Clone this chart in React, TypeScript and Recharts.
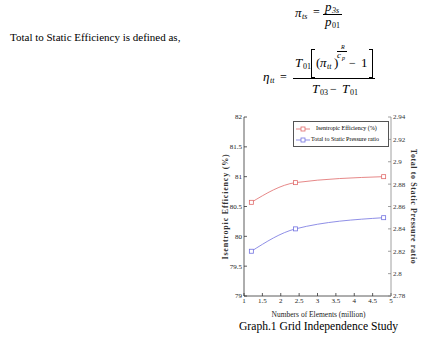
import React from "react";
import { LineChart, Line, XAxis, YAxis, Legend, Label } from "recharts";

// grid study: number of elements (million)
const elements = [1.2, 2.4, 4.8];
const isentropicEfficiency = [80.57, 80.9, 81.0];
const pressureRatio = [2.82, 2.84, 2.85];

const xTicks = [1, 1.5, 2, 2.5, 3, 3.5, 4, 4.5, 5];
const leftTicks = [79, 79.5, 80, 80.5, 81, 81.5, 82];
const rightTicks = [2.78, 2.8, 2.82, 2.84, 2.86, 2.88, 2.9, 2.92, 2.94];

const seriesNames = ["Isentropic Efficiency (%)", "Total to Static Pressure ratio"];
const seriesColors = ["#e06a6a", "#7272e0"];

const data = elements.map((x, i) => ({
  x,
  eff: isentropicEfficiency[i],
  ratio: pressureRatio[i],
}));

const SERIF = "'Liberation Serif', 'Times New Roman', serif";
const fmt = (v: number) => String(parseFloat(Number(v).toFixed(2)));

const squareDot = (color: string) => (props: any) => {
  const { cx, cy, index } = props;
  return (
    <rect
      key={`sq-${index}`}
      x={cx - 2}
      y={cy - 2}
      width={4}
      height={4}
      fill="#fff"
      stroke={color}
      strokeWidth={0.8}
    />
  );
};

function T({ x, y, s = 12, i = true, children }: any) {
  return (
    <span
      style={{
        position: "absolute",
        left: x,
        top: y,
        fontSize: s,
        fontStyle: i ? "italic" : "normal",
        lineHeight: 1,
        whiteSpace: "nowrap",
      }}
    >
      {children}
    </span>
  );
}

const Bar = ({ x, y, w, h = 1 }: any) => (
  <div style={{ position: "absolute", left: x, top: y, width: w, height: h, background: "#000" }} />
);

const Bracket = ({ x, side }: any) => (
  <div
    style={{
      position: "absolute",
      left: x,
      top: 49,
      width: 3,
      height: 27,
      borderTop: "1.2px solid #000",
      borderBottom: "1.2px solid #000",
      [side === "l" ? "borderLeft" : "borderRight"]: "1.2px solid #000",
    }}
  />
);

const renderLegend = (props: any) => {
  const items = props.payload || [];
  return (
    <div
      style={{
        border: "0.8px solid #555",
        background: "#fff",
        padding: "1px 2px",
        fontFamily: SERIF,
        fontSize: 6,
        lineHeight: "11px",
      }}
    >
      {items.map((it: any, i: number) => (
        <div key={i} style={{ display: "flex", alignItems: "center" }}>
          <svg width={14} height={6} style={{ marginRight: i === 0 ? 6 : 1 }}>
            <line x1={0} y1={3} x2={14} y2={3} stroke={it.color} strokeWidth={0.8} />
            <rect x={5} y={1} width={4} height={4} fill="#fff" stroke={it.color} strokeWidth={0.8} />
          </svg>
          <span>{it.value}</span>
        </div>
      ))}
    </div>
  );
};

export default function App() {
  return (
    <div
      style={{
        position: "absolute",
        left: 0,
        top: 0,
        width: 443,
        height: 339,
        background: "#fff",
        fontFamily: SERIF,
        color: "#000",
      }}
    >
      <LineChart
        width={443}
        height={339}
        data={data}
        margin={{ top: 117, right: 0, bottom: 0, left: 0 }}
      >
        <XAxis
          dataKey="x"
          type="number"
          domain={[1, 5]}
          ticks={xTicks}
          tickFormatter={fmt}
          height={43}
          stroke="#333"
          strokeWidth={0.8}
          tickSize={-3}
          tickMargin={5}
          tick={{ fontSize: 7, fill: "#222", fontFamily: SERIF }}
          interval={0}
        >
          <Label
            content={(p: any) => (
              <text
                x={p.viewBox.x + p.viewBox.width / 2 + 1}
                y={p.viewBox.y + 21}
                textAnchor="middle"
                fontSize={7.5}
                fontFamily={SERIF}
                fill="#222"
              >
                Numbers of Elements (million)
              </text>
            )}
          />
        </XAxis>
        <XAxis
          xAxisId="top"
          dataKey="x"
          type="number"
          orientation="top"
          domain={[1, 5]}
          ticks={xTicks}
          tickFormatter={() => ""}
          height={0}
          stroke="#333"
          strokeWidth={0.8}
          tickSize={-3}
        />
        <YAxis
          yAxisId="left"
          domain={[79, 82]}
          ticks={leftTicks}
          tickFormatter={fmt}
          width={244}
          stroke="#333"
          strokeWidth={0.8}
          tickSize={-3}
          tickMargin={5}
          tick={{ fontSize: 7, fill: "#222", fontFamily: SERIF }}
          interval={0}
        >
          <Label
            content={(p: any) => {
              const cx = p.viewBox.x + p.viewBox.width - 19;
              const cy = p.viewBox.y + p.viewBox.height / 2;
              return (
                <text
                  x={cx}
                  y={cy}
                  transform={`rotate(-90 ${cx} ${cy})`}
                  textAnchor="middle"
                  dominantBaseline="central"
                  fontSize={8}
                  fontWeight="bold"
                  letterSpacing={0.8}
                  fontFamily={SERIF}
                  fill="#333"
                >
                  Isentropic Efficiency (%)
                </text>
              );
            }}
          />
        </YAxis>
        <YAxis
          yAxisId="right"
          orientation="right"
          domain={[2.78, 2.94]}
          ticks={rightTicks}
          tickFormatter={fmt}
          width={52}
          stroke="#888"
          strokeWidth={0.8}
          tickSize={-3}
          tickMargin={5}
          tick={{ fontSize: 7, fill: "#333", fontFamily: SERIF }}
          interval={0}
        >
          <Label
            content={(p: any) => {
              const cx = p.viewBox.x + 22;
              const cy = p.viewBox.y + p.viewBox.height / 2;
              return (
                <text
                  x={cx}
                  y={cy}
                  transform={`rotate(90 ${cx} ${cy})`}
                  textAnchor="middle"
                  dominantBaseline="central"
                  fontSize={8}
                  fontWeight="bold"
                  letterSpacing={0.6}
                  fontFamily={SERIF}
                  fill="#333"
                >
                  Total to Static Pressure ratio
                </text>
              );
            }}
          />
        </YAxis>
        <Legend
          layout="vertical"
          align="center"
          verticalAlign="middle"
          wrapperStyle={{ position: "absolute", left: 293, top: 121, width: 96, height: 26 }}
          content={renderLegend}
        />
        <Line
          yAxisId="left"
          type="monotone"
          dataKey="eff"
          name={seriesNames[0]}
          stroke={seriesColors[0]}
          strokeWidth={0.8}
          dot={squareDot(seriesColors[0])}
          isAnimationActive={false}
        />
        <Line
          yAxisId="right"
          type="monotone"
          dataKey="ratio"
          name={seriesNames[1]}
          stroke={seriesColors[1]}
          strokeWidth={0.8}
          dot={squareDot(seriesColors[1])}
          isAnimationActive={false}
        />
      </LineChart>

      {/* body text and formulas */}
      <T x={10} y={32} s={11} i={false}>
        Total to Static Efficiency is defined as,
      </T>

      <T x={295} y={6} s={13}>π</T>
      <T x={302} y={13} s={8}>ts</T>
      <T x={313} y={6} s={12} i={false}>=</T>
      <Bar x={323} y={14} w={19} />
      <T x={325} y={0} s={13}>p</T>
      <T x={332} y={7} s={8}>3s</T>
      <T x={325} y={15} s={13}>p</T>
      <T x={332} y={22} s={8} i={false}>01</T>

      <T x={263} y={70} s={13}>η</T>
      <T x={270} y={77} s={8}>tt</T>
      <T x={280} y={71} s={12} i={false}>=</T>
      <Bar x={293} y={78} w={82} />
      <T x={295} y={56} s={13}>T</T>
      <T x={303} y={63} s={8} i={false}>01</T>
      <Bracket x={311} side="l" />
      <T x={316} y={56} s={13} i={false}>(</T>
      <T x={320} y={56} s={13}>π</T>
      <T x={327} y={63} s={8}>tt</T>
      <T x={334} y={56} s={13} i={false}>)</T>
      <T x={341} y={44} s={6}>R</T>
      <Bar x={337} y={51} w={10} h={0.8} />
      <T x={337} y={51} s={9}>c</T>
      <T x={342} y={55} s={6}>p</T>
      <T x={349} y={57} s={12} i={false}>−</T>
      <T x={361} y={56} s={13} i={false}>1</T>
      <Bracket x={369} side="r" />
      <T x={312} y={82} s={13}>T</T>
      <T x={320} y={89} s={8} i={false}>03</T>
      <T x={330} y={83} s={12} i={false}>−</T>
      <T x={342} y={82} s={13}>T</T>
      <T x={350} y={89} s={8} i={false}>01</T>

      <T x={239} y={321} s={11.6} i={false}>
        Graph.1 Grid Independence Study
      </T>
    </div>
  );
}
